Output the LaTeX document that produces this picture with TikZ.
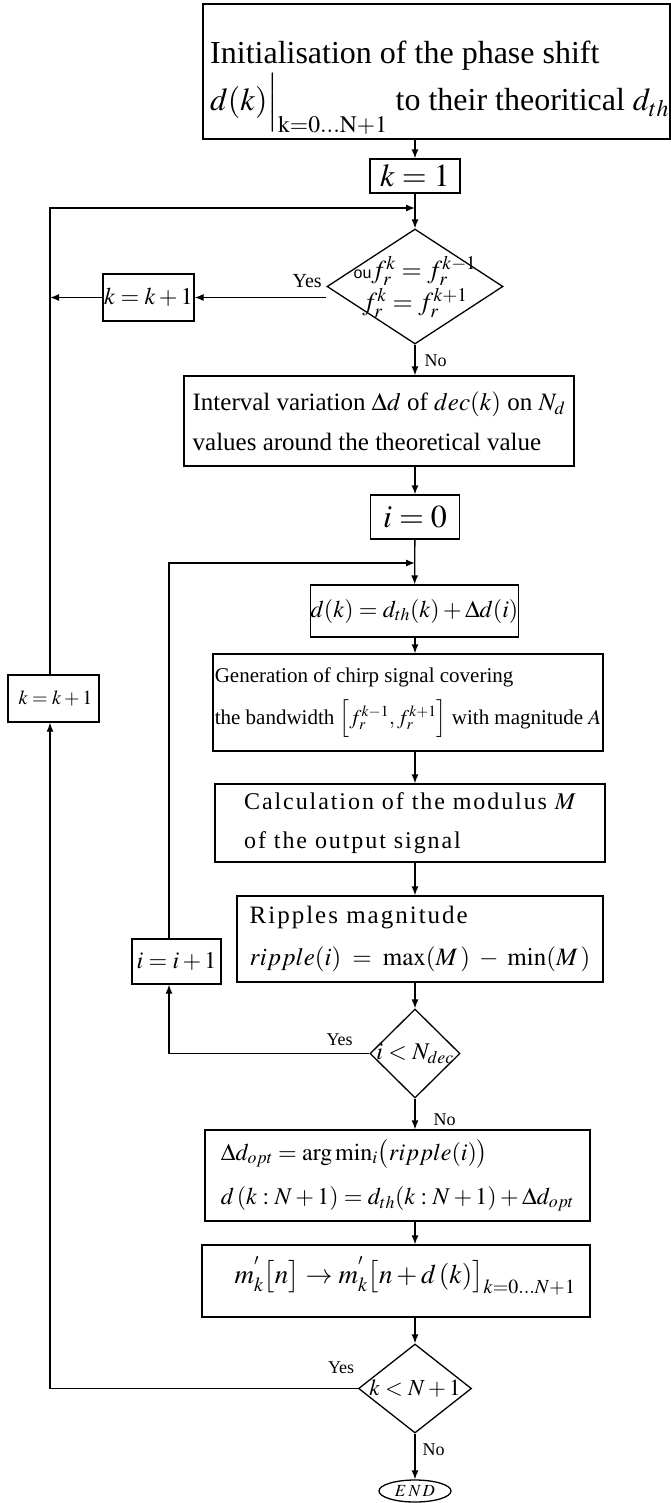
\documentclass[tikz,border=0pt]{standalone}
\usepackage{mathptmx}
\usepackage{fontspec}
\setmainfont{Liberation Serif}
\setsansfont{Liberation Sans}
\usetikzlibrary{arrows.meta,shapes.geometric}
\newcommand{\FontPx}[2]{\fontsize{#1}{#2}\selectfont}

\begin{document}
\begin{tikzpicture}[x=1pt,y=-1pt,
  box/.style={draw,line width=1.3pt,inner sep=0pt,align=left},
  test/.style={draw,diamond,line width=1.3pt,inner sep=0pt},
  flow/.style={line width=1.3pt,-{Latex[length=9pt,width=7pt]}},
  answer/.style={inner sep=0pt,font=\FontPx{18}{18}}]
\useasboundingbox (0,0) rectangle (671,1503);

\coordinate (L) at (50,0);
\coordinate (I) at (169,0);
\coordinate (j1) at (415,208);
\coordinate (j2) at (415,563);

\node[box,minimum width=467,minimum height=135] (init) at (436.5,71.5) {};
\node[inner sep=0pt,align=left,anchor=north west,font=\FontPx{32}{47}] (initText) at (210,41)
  {Initialisation of the phase shift\\$d(k)\Big|_{\mathrm{k=0\ldots N+1}}$ to their theoritical $d_{th}$};
\node[box,minimum width=90,minimum height=34,font=\FontPx{32}{32}] (k1) at (415,176) {$k=1$};
\node[test,minimum width=176,minimum height=115,
  label={[align=center,font=\FontPx{26}{32}]center:{\textsf{\FontPx{16}{16}ou}$f_r^k=f_r^{k-1}$\\$f_r^k=f_r^{k+1}$}}] (d1) at (415,286.5) {};
\node[box,minimum width=91,minimum height=47,font=\FontPx{24}{24}] (kk1a) at (148.5,297.5) {$k=k+1$};
\node[box,minimum width=390,minimum height=90,font=\FontPx{25}{40}] (intv) at (379,421)
  {Interval variation $\Delta d$ of $dec(k)$ on $N_d$\\values around the theoretical value};
\node[box,minimum width=89,minimum height=44,font=\FontPx{32}{32}] (i0) at (415,517) {$i=0$};
\node[box,minimum width=197,minimum height=52,font=\FontPx{24}{24}] (dk) at (414.5,611) {$d(k)=d_{th}(k)+\Delta d(i)$};
\node[box,minimum width=390,minimum height=97,font=\FontPx{21}{42}] (gen) at (408,702.5)
  {Generation of chirp signal covering\\the bandwidth $\Big[f_r^{k-1},f_r^{k+1}\Big]$ with magnitude $A$};
\node[box,minimum width=390,minimum height=78,font=\FontPx{24}{39}\addfontfeature{LetterSpace=8}] (calc) at (410,823)
  {Calculation of the modulus $M$\\of the output signal};
\node[box,minimum width=366,minimum height=86,font=\FontPx{25}{42}\addfontfeature{LetterSpace=8}] (rip) at (420,939)
  {Ripples magnitude\\$ripple(i)\;=\;\max(M\,)\;-\;\min(M\,)$};
\node[box,minimum width=89,minimum height=45,font=\FontPx{24}{24}] (ii1) at (176.5,961.5) {$i=i+1$};
\node[test,minimum width=90,minimum height=89,
  label={[font=\FontPx{24}{24}]center:{$i<N_{dec}$}}] (d2) at (415,1053.5) {};
\node[box,minimum width=385,minimum height=91,font=\FontPx{24}{44}] (opt) at (397.5,1175.5)
  {$\Delta d_{opt}=\arg\min\nolimits_i\bigl(ripple(i)\bigr)$\\$d\,(k:N+1)=d_{th}(k:N+1)+\Delta d_{opt}$};
\node[box,minimum width=388,minimum height=72] (mk) at (396,1281) {};
\node[inner sep=0pt,anchor=base,font=\FontPx{27}{27}] (mkText) at (405,1283)
  {$m_k^{'}\bigl[n\bigr]\to m_k^{'}\bigl[n+d\,(k)\bigr]_{k=0\ldots N+1}$};
\node[test,minimum width=113,minimum height=89,
  label={[font=\FontPx{23}{23}]center:{$k<N+1$}}] (d3) at (415,1388.5) {};
\node[draw,ellipse,line width=1.3pt,inner sep=0pt,minimum width=72,minimum height=22,font=\FontPx{17}{17}] (end) at (415,1491) {$E\,N\,D$};
\node[box,minimum width=91,minimum height=47,font=\FontPx{20}{20}] (kk1b) at (53.5,698.5) {\hspace{4pt}$k=k+1$};

\draw[flow] (init.south -| k1) -- (k1.north);
\draw[flow] (k1) -- (d1);
\draw[flow] (d1.west |- kk1a) node[answer,font=\FontPx{20}{20},anchor=south east,xshift=-4,yshift=9] {Yes} -- (kk1a.east);
\draw[flow] (kk1a.west) -- (kk1a.west -| L);
\draw[flow] (d1.south) node[answer,anchor=north west,xshift=9,yshift=-9] {No} -- (d1.south |- intv.north);
\draw[flow] (intv.south -| i0) -- (i0.north);
\draw[flow] (i0) -- (dk);
\draw[flow] (dk.south -| i0) -- (gen.north -| i0);
\draw[flow] (gen.south -| i0) -- (calc.north -| i0);
\draw[flow] (calc.south -| i0) -- (rip.north -| i0);
\draw[flow] (rip.south -| d2) -- (d2.north);
\draw[flow] (d2.west) node[answer,anchor=south east,xshift=-16,yshift=7] {Yes} -| (ii1.south -| I);
\draw[flow] (ii1.north -| I) |- (j2);
\draw[flow] (d2.south) node[answer,anchor=north west,xshift=18,yshift=-14] {No} -- (opt.north -| d2);
\draw[flow] (opt.south -| d3) -- (mk.north -| d3);
\draw[flow] (mk.south -| d3) -- (d3.north);
\draw[flow] (d3.west) node[answer,anchor=south east,xshift=-3,yshift=14] {Yes} -| (kk1b.south -| L);
\draw[flow] (kk1b.north -| L) |- (j1);
\draw[flow] (d3.south) node[answer,anchor=north west,xshift=7,yshift=-9] {No} -- (end.north);
\end{tikzpicture}
\end{document}
